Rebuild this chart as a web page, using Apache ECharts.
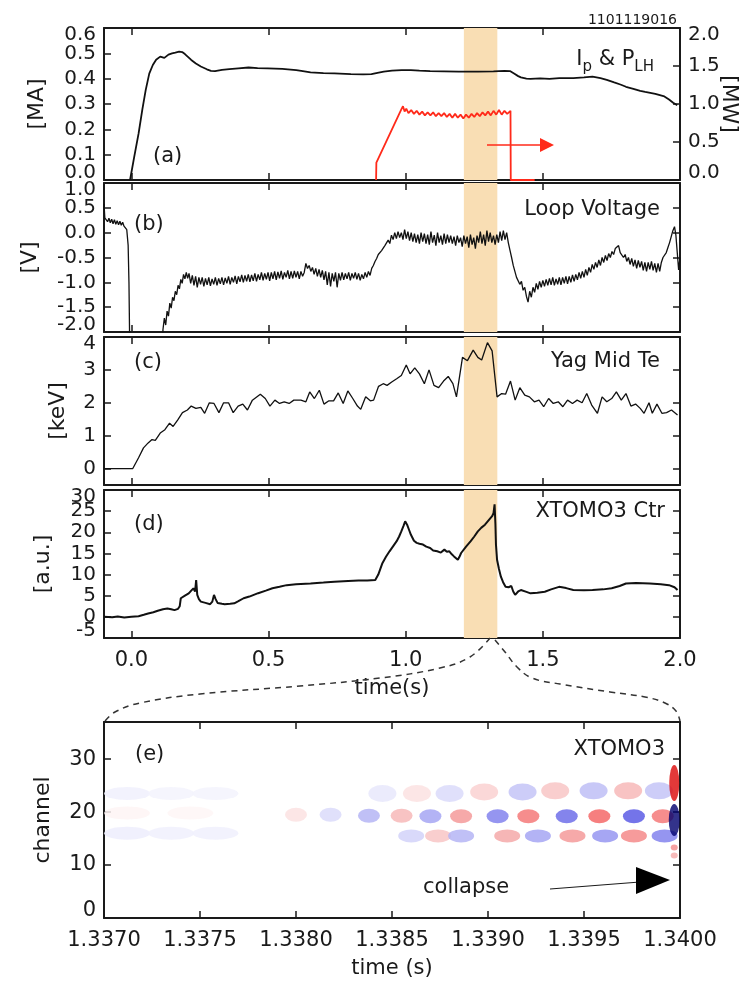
<!DOCTYPE html>
<html>
<head>
<meta charset="utf-8">
<script src="https://cdn.jsdelivr.net/npm/echarts@6/dist/echarts.min.js"></script>
<style>
html, body { margin: 0; padding: 0; background: #fff; }
#chart { width: 749px; height: 984px; }
</style>
</head>
<body>
<div id="chart"></div>
<script>
// (a) plasma current [MA] and LH power [MW]
var ipTrace = [[-0.005,0.0],[0.01,0.09],[0.026,0.183],[0.04,0.28],[0.052,0.355],[0.065,0.42],[0.078,0.454],[0.09,0.475],[0.105,0.487],[0.12,0.482],[0.135,0.495],[0.148,0.5],[0.16,0.503],[0.174,0.507],[0.185,0.505],[0.195,0.497],[0.205,0.487],[0.218,0.474],[0.235,0.46],[0.253,0.448],[0.275,0.437],[0.29,0.431],[0.305,0.43],[0.33,0.435],[0.357,0.438],[0.39,0.441],[0.427,0.444],[0.46,0.442],[0.497,0.441],[0.55,0.439],[0.601,0.434],[0.625,0.43],[0.653,0.425],[0.7,0.422],[0.74,0.421],[0.8,0.418],[0.845,0.417],[0.875,0.418],[0.897,0.423],[0.92,0.428],[0.95,0.432],[0.985,0.434],[1.019,0.434],[1.05,0.432],[1.089,0.43],[1.14,0.429],[1.193,0.428],[1.263,0.428],[1.32,0.429],[1.36,0.431],[1.38,0.43],[1.395,0.42],[1.41,0.41],[1.42,0.405],[1.44,0.4],[1.455,0.399],[1.49,0.401],[1.524,0.399],[1.56,0.402],[1.611,0.402],[1.65,0.405],[1.681,0.408],[1.71,0.402],[1.733,0.395],[1.76,0.385],[1.785,0.376],[1.803,0.368],[1.83,0.36],[1.855,0.352],[1.873,0.348],[1.91,0.34],[1.943,0.33],[1.96,0.318],[1.975,0.305],[1.99,0.295]];
var plhTrace = [[0.892,0.0],[0.893,0.23],[0.984,0.93],[0.99,0.97],[0.996,0.9],[1.002,0.94],[1.01,0.88],[1.02,0.92],[1.03,0.87],[1.04,0.91],[1.05,0.86],[1.06,0.9],[1.07,0.85],[1.08,0.89],[1.09,0.85],[1.1,0.89],[1.11,0.84],[1.12,0.88],[1.13,0.84],[1.14,0.88],[1.15,0.83],[1.16,0.87],[1.17,0.82],[1.18,0.87],[1.19,0.82],[1.2,0.86],[1.21,0.81],[1.22,0.86],[1.23,0.82],[1.24,0.87],[1.25,0.83],[1.26,0.88],[1.27,0.84],[1.28,0.89],[1.29,0.85],[1.3,0.9],[1.31,0.85],[1.32,0.91],[1.33,0.86],[1.34,0.92],[1.35,0.86],[1.36,0.91],[1.37,0.87],[1.382,0.91],[1.383,0.0],[1.47,0.0]];

// (b) loop voltage [V]
var loopV = [[-0.1,0.58],[-0.097,0.3],[-0.092,0.33],[-0.087,0.22],[-0.082,0.29],[-0.077,0.2],[-0.072,0.27],[-0.067,0.18],[-0.062,0.26],[-0.057,0.17],[-0.052,0.24],[-0.047,0.16],[-0.042,0.23],[-0.037,0.15],[-0.032,0.21],[-0.027,0.13],[-0.022,0.16],[-0.017,0.06],[-0.012,-0.25],[-0.009,-1.0],[-0.006,-2.4],
[0.112,-2.4],[0.115,-1.95],[0.12,-1.72],[0.125,-1.86],[0.13,-1.58],[0.135,-1.68],[0.14,-1.42],[0.145,-1.52],[0.15,-1.3],[0.155,-1.37],[0.16,-1.18],[0.165,-1.25],[0.17,-1.06],[0.175,-1.13],[0.18,-0.94],[0.185,-1.02],[0.19,-0.84],[0.195,-0.93],[0.2,-0.8],[0.205,-0.92],
[0.21,-0.82],[0.216,-1.02],[0.222,-0.86],[0.228,-1.06],[0.234,-0.88],[0.24,-1.1],[0.246,-0.9],[0.252,-1.04],[0.258,-0.9],[0.264,-1.08],[0.27,-0.92],[0.276,-1.05],[0.282,-0.9],[0.288,-1.07],[0.294,-0.93],[0.3,-1.04],[0.306,-0.9],[0.312,-1.06],[0.318,-0.92],[0.324,-1.03],[0.33,-0.9],[0.336,-1.05],[0.342,-0.91],[0.348,-1.02],[0.354,-0.88],[0.36,-1.04],[0.366,-0.9],[0.372,-1.0],[0.378,-0.87],[0.384,-1.03],[0.39,-0.88],[0.396,-0.99],[0.402,-0.85],[0.408,-1.0],[0.414,-0.86],[0.42,-0.98],[0.426,-0.84],[0.432,-0.99],[0.438,-0.85],[0.444,-0.97],[0.45,-0.82],[0.456,-0.98],[0.462,-0.84],[0.468,-0.95],[0.474,-0.8],[0.48,-0.96],[0.486,-0.82],[0.492,-0.94],[0.498,-0.8],[0.504,-0.97],[0.51,-0.8],[0.516,-0.93],[0.522,-0.78],[0.528,-0.95],[0.534,-0.79],[0.54,-0.92],[0.546,-0.77],[0.552,-0.94],[0.558,-0.8],[0.564,-0.9],[0.57,-0.76],[0.576,-0.93],[0.582,-0.78],[0.588,-0.92],[0.594,-0.77],[0.6,-0.9],[0.606,-0.78],[0.612,-0.93],[0.618,-0.78],[0.624,-0.88],[0.63,-0.8],[0.636,-0.62],[0.642,-0.72],[0.648,-0.66],[0.654,-0.78],[0.66,-0.7],[0.666,-0.84],[0.672,-0.72],[0.678,-0.88],[0.684,-0.74],[0.69,-0.9],[0.696,-0.76],[0.702,-0.95],[0.708,-0.78],[0.714,-1.05],[0.72,-0.8],[0.726,-1.08],[0.732,-0.82],[0.738,-0.98],[0.744,-0.8],[0.75,-1.1],[0.756,-0.82],[0.762,-0.96],[0.768,-0.8],[0.774,-0.95],[0.78,-0.82],[0.786,-0.93],[0.792,-0.8],[0.798,-0.96],[0.804,-0.82],[0.81,-0.92],[0.816,-0.8],[0.822,-0.94],[0.828,-0.82],[0.834,-0.96],[0.84,-0.84],[0.846,-0.93],[0.852,-0.8],[0.858,-0.9],[0.864,-0.78],[0.87,-0.86],[0.876,-0.72],[0.882,-0.66],[0.888,-0.58],[0.894,-0.52],[0.9,-0.44],[0.906,-0.48],[0.912,-0.36],[0.918,-0.4],[0.924,-0.26],[0.93,-0.3],[0.936,-0.15],[0.942,-0.22],[0.948,-0.05],[0.954,-0.14],[0.96,0.0],[0.966,-0.12],[0.972,0.02],[0.978,-0.1],[0.984,0.0],[0.99,-0.14],[0.996,0.06],[1.002,-0.12],[1.008,0.02],[1.014,-0.16],[1.02,0.0],[1.026,-0.18],[1.032,-0.02],[1.038,-0.2],[1.044,-0.04],[1.05,-0.22],[1.056,0.0],[1.062,-0.18],[1.068,-0.02],[1.074,-0.22],[1.08,-0.04],[1.086,-0.24],[1.092,0.02],[1.098,-0.2],[1.104,-0.05],[1.11,-0.26],[1.116,0.0],[1.122,-0.2],[1.128,-0.06],[1.134,-0.24],[1.14,-0.02],[1.146,-0.22],[1.152,-0.04],[1.158,-0.2],[1.164,-0.06],[1.17,-0.22],[1.176,-0.08],[1.182,-0.26],[1.188,-0.06],[1.194,-0.2],[1.2,-0.1],[1.206,-0.28],[1.212,-0.06],[1.218,-0.22],[1.224,-0.08],[1.23,-0.3],[1.236,-0.04],[1.242,-0.24],[1.248,-0.1],[1.254,-0.32],[1.26,-0.06],[1.266,-0.2],[1.272,0.02],[1.278,-0.22],[1.284,-0.04],[1.29,-0.26],[1.296,0.04],[1.302,-0.18],[1.308,0.0],[1.314,-0.2],[1.32,-0.06],[1.326,-0.24],[1.332,-0.04],[1.338,-0.2],[1.344,0.02],[1.35,-0.16],[1.356,0.04],[1.362,-0.14],[1.368,0.0],[1.374,-0.2],[1.38,-0.35],[1.386,-0.5],[1.392,-0.66],[1.398,-0.78],[1.404,-0.9],[1.41,-0.86],[1.416,-1.04],[1.422,-0.98],[1.428,-1.16],[1.434,-1.1],[1.44,-1.28],[1.446,-1.4],[1.452,-1.18],[1.458,-1.3],[1.464,-1.1],[1.47,-1.2],[1.476,-1.02],[1.482,-1.14],[1.488,-0.98],[1.494,-1.1],[1.5,-0.96],[1.506,-1.08],[1.512,-0.94],[1.518,-1.06],[1.524,-0.92],[1.53,-1.05],[1.536,-0.9],[1.542,-1.06],[1.548,-0.93],[1.554,-1.04],[1.56,-0.9],[1.566,-1.05],[1.572,-0.9],[1.578,-1.02],[1.584,-0.88],[1.59,-1.03],[1.596,-0.88],[1.602,-1.0],[1.608,-0.85],[1.614,-0.98],[1.62,-0.84],[1.626,-0.95],[1.632,-0.8],[1.638,-0.92],[1.644,-0.78],[1.65,-0.9],[1.656,-0.74],[1.662,-0.86],[1.668,-0.7],[1.674,-0.8],[1.68,-0.64],[1.686,-0.74],[1.692,-0.6],[1.698,-0.7],[1.704,-0.55],[1.71,-0.66],[1.716,-0.5],[1.722,-0.6],[1.728,-0.46],[1.734,-0.56],[1.74,-0.42],[1.746,-0.5],[1.752,-0.38],[1.758,-0.44],[1.764,-0.32],[1.77,-0.36],[1.776,-0.26],[1.782,-0.4],[1.788,-0.36],[1.794,-0.5],[1.8,-0.44],[1.806,-0.58],[1.812,-0.5],[1.818,-0.64],[1.824,-0.52],[1.83,-0.68],[1.836,-0.55],[1.842,-0.72],[1.848,-0.56],[1.854,-0.7],[1.86,-0.58],[1.866,-0.76],[1.872,-0.6],[1.878,-0.78],[1.884,-0.6],[1.89,-0.74],[1.896,-0.58],[1.902,-0.76],[1.908,-0.62],[1.914,-0.8],[1.92,-0.62],[1.926,-0.78],[1.932,-0.6],[1.938,-0.5],[1.944,-0.54],[1.95,-0.4],[1.956,-0.3],[1.962,-0.2],[1.968,-0.08],[1.974,0.04],[1.98,0.12],[1.985,-0.05],[1.99,-0.4],[1.995,-0.75],[2.0,-0.5]];

// (c) Thomson scattering core Te [keV]
var teTrace = [[-0.1,0],[0.005,0],[0.026,0.33],[0.044,0.63],[0.061,0.78],[0.075,0.88],[0.087,0.86],[0.105,1.08],[0.122,1.18],[0.139,1.38],[0.152,1.28],[0.169,1.48],[0.186,1.7],[0.204,1.78],[0.218,1.9],[0.235,1.83],[0.253,1.86],[0.267,1.68],[0.284,2.0],[0.301,1.98],[0.319,1.7],[0.336,2.0],[0.354,2.0],[0.371,1.7],[0.389,1.9],[0.406,1.96],[0.423,1.78],[0.441,2.08],[0.47,2.26],[0.488,2.13],[0.505,1.9],[0.523,2.08],[0.54,1.98],[0.557,2.03],[0.575,1.98],[0.592,2.08],[0.618,2.08],[0.636,2.03],[0.65,2.33],[0.667,2.13],[0.685,2.38],[0.702,1.96],[0.72,2.06],[0.737,2.06],[0.754,2.3],[0.772,1.98],[0.789,2.36],[0.807,2.13],[0.824,1.9],[0.836,1.8],[0.854,2.18],[0.871,2.06],[0.883,2.08],[0.901,2.5],[0.918,2.58],[0.932,2.53],[0.949,2.63],[0.967,2.73],[0.984,2.83],[1.002,3.15],[1.016,2.88],[1.033,3.06],[1.05,2.88],[1.068,2.58],[1.085,3.0],[1.103,2.53],[1.12,2.46],[1.138,2.66],[1.155,2.8],[1.172,2.58],[1.185,2.18],[1.207,3.38],[1.225,3.28],[1.246,3.6],[1.263,3.38],[1.277,3.3],[1.298,3.83],[1.315,3.58],[1.333,2.18],[1.35,2.28],[1.364,2.26],[1.382,2.66],[1.399,2.08],[1.416,2.46],[1.434,2.23],[1.451,2.18],[1.469,2.03],[1.486,2.08],[1.503,1.88],[1.521,2.13],[1.538,1.98],[1.556,2.03],[1.573,1.88],[1.59,2.08],[1.608,1.98],[1.625,2.08],[1.643,2.0],[1.66,2.28],[1.678,1.93],[1.699,1.68],[1.716,2.18],[1.733,2.03],[1.751,2.13],[1.768,2.33],[1.786,2.08],[1.803,2.28],[1.821,1.9],[1.838,1.96],[1.855,1.83],[1.869,1.68],[1.887,2.0],[1.899,1.68],[1.916,1.96],[1.934,1.68],[1.951,1.7],[1.969,1.78],[1.991,1.63]];

// (d) XTOMO3 central chord [a.u.]
var xtomoTrace = [[-0.1,0.0],[-0.07,-0.1],[-0.05,0.1],[-0.026,-0.16],[0.0,0.0],[0.026,0.16],[0.045,0.5],[0.061,0.8],[0.08,1.1],[0.096,1.43],[0.115,1.8],[0.131,1.98],[0.145,1.8],[0.157,1.59],[0.17,1.9],[0.176,2.5],[0.18,4.4],[0.195,5.0],[0.209,5.56],[0.218,6.2],[0.226,6.75],[0.232,6.0],[0.236,8.7],[0.24,5.2],[0.246,4.2],[0.253,3.6],[0.27,3.3],[0.287,3.0],[0.295,3.6],[0.301,5.2],[0.307,4.2],[0.314,3.3],[0.33,3.1],[0.34,3.0],[0.36,3.1],[0.375,3.2],[0.39,3.7],[0.409,4.4],[0.43,4.8],[0.462,5.6],[0.49,6.2],[0.514,6.75],[0.54,7.1],[0.566,7.5],[0.6,7.7],[0.653,7.9],[0.7,8.1],[0.74,8.3],[0.79,8.5],[0.828,8.6],[0.86,8.6],[0.889,8.7],[0.9,10.0],[0.915,12.7],[0.928,14.2],[0.941,15.5],[0.955,16.8],[0.967,17.9],[0.976,19.0],[0.984,20.2],[0.992,21.5],[0.998,22.6],[1.005,21.8],[1.012,20.6],[1.019,19.4],[1.03,18.0],[1.04,17.5],[1.05,17.3],[1.063,17.1],[1.075,16.6],[1.089,16.3],[1.1,15.7],[1.115,15.5],[1.128,15.2],[1.141,15.9],[1.15,15.4],[1.159,15.5],[1.168,14.8],[1.176,14.3],[1.19,13.5],[1.196,14.2],[1.202,15.1],[1.22,16.6],[1.237,17.9],[1.25,19.0],[1.263,20.2],[1.276,21.1],[1.289,21.8],[1.302,22.8],[1.315,23.8],[1.32,24.5],[1.324,26.6],[1.327,22.0],[1.329,17.1],[1.333,13.5],[1.34,11.3],[1.347,9.5],[1.355,8.2],[1.364,7.1],[1.375,7.0],[1.385,7.3],[1.392,6.0],[1.399,5.2],[1.41,6.0],[1.42,6.35],[1.44,5.9],[1.455,5.56],[1.48,5.7],[1.507,5.95],[1.53,6.5],[1.559,7.1],[1.585,6.8],[1.611,6.35],[1.65,6.3],[1.681,6.35],[1.72,6.5],[1.751,6.75],[1.78,7.3],[1.803,7.9],[1.84,8.0],[1.89,7.9],[1.93,7.7],[1.96,7.5],[1.98,7.0],[1.991,6.35]];

// window zoomed in (e)
var zoomWindow = [1.212, 1.334];

// (e) XTOMO3 fluctuation blobs: [time, channel, amplitude]
var modeBlobs = [[1.33712,16,-0.06],[1.33735,16,-0.05],[1.33758,16,-0.05],[1.33712,23.5,-0.05],[1.33735,23.5,-0.04],[1.33758,23.5,-0.04],[1.33712,19.8,0.04],[1.33745,19.8,0.03],
[1.33800,19.5,0.1],[1.33818,19.5,-0.12],[1.33838,19.3,-0.25],[1.33855,19.3,0.25],[1.3387,19.2,-0.3],[1.33886,19.2,0.35],[1.33905,19.2,-0.4],[1.33921,19.2,0.45],[1.33941,19.2,-0.45],[1.33958,19.2,0.5],[1.33976,19.2,-0.5],[1.33991,19.2,0.45],
[1.3386,15.5,-0.15],[1.33874,15.5,0.2],[1.33886,15.5,-0.25],[1.3391,15.5,0.3],[1.33926,15.5,-0.3],[1.33944,15.5,0.35],[1.33961,15.5,-0.35],[1.33976,15.5,0.4],[1.33992,15.5,-0.4],
[1.33845,23.5,-0.08],[1.33863,23.5,0.1],[1.3388,23.5,-0.12],[1.33898,23.8,0.16],[1.33918,23.8,-0.2],[1.33935,24,0.2],[1.33955,24,-0.22],[1.33973,24,0.25],[1.33989,24,-0.2]];
var collapseBlobs = [[1.33997,25.5,0.95],[1.33997,18.5,-1.0],[1.33997,13.3,0.4],[1.33997,11.8,0.3]];

var FONT = 'DejaVu Sans';
var INK = '#1a1a1a';
var frameLine = { show: true, onZero: false, lineStyle: { color: INK, width: 2 } };
var inTick = { show: true, inside: true, length: 7, lineStyle: { color: INK, width: 1.5 } };

var grids = [
    { left: 104, top: 28, width: 576, height: 152, outerBoundsMode: 'none' },
    { left: 104, top: 183, width: 576, height: 149, outerBoundsMode: 'none' },
    { left: 104, top: 337, width: 576, height: 148, outerBoundsMode: 'none' },
    { left: 104, top: 490, width: 576, height: 148, outerBoundsMode: 'none' },
    { left: 104, top: 722, width: 576, height: 196, outerBoundsMode: 'none' }
];

function timeAxis(g, pos, labels) {
    var ax = {
        type: 'value', gridIndex: g, position: pos, min: -0.1, max: 2.0, splitNumber: 4,
        axisLine: frameLine, axisTick: inTick, splitLine: { show: false },
        axisLabel: { show: labels, showMinLabel: false, margin: 12, fontSize: 21, fontFamily: FONT, color: INK,
            formatter: function (v) { return v.toFixed(1); } }
    };
    if (labels) {
        ax.name = 'time(s)';
        ax.nameLocation = 'middle';
        ax.nameGap = 40;
        ax.nameTextStyle = { fontSize: 21, fontFamily: FONT, color: INK };
    }
    return ax;
}

// frame axis: inner tick labels only, the two edge values go on edgeAxis
function valAxis(g, pos, opt) {
    var ax = {
        type: 'value', gridIndex: g, position: pos, min: opt.min, max: opt.max,
        axisLine: frameLine, axisTick: inTick, splitLine: { show: false },
        axisLabel: { show: !!opt.labels, margin: 8, fontSize: opt.fontSize || 20,
            fontFamily: FONT, color: INK, showMinLabel: false, showMaxLabel: false,
            formatter: function (v) { return v.toFixed(opt.digits); } }
    };
    if (opt.interval) ax.interval = opt.interval;
    if (opt.splitNumber) ax.splitNumber = opt.splitNumber;
    if (opt.name) {
        ax.name = opt.name;
        ax.nameLocation = 'middle';
        ax.nameGap = opt.gap;
        ax.nameRotate = opt.rotate;
        ax.nameMoveOverlap = false;
        ax.nameTextStyle = { fontSize: 22, fontFamily: FONT, color: INK };
    }
    return ax;
}

// label-only axis: the end values, nudged just inside the frame as in the original
function edgeAxis(g, pos, opt) {
    return {
        type: 'value', gridIndex: g, position: pos, min: opt.min, max: opt.max,
        interval: opt.interval, splitNumber: opt.splitNumber,
        axisLine: { show: false }, axisTick: { show: false }, splitLine: { show: false },
        axisLabel: { margin: 8, fontSize: opt.fontSize || 20, lineHeight: 14, fontFamily: FONT, color: INK,
            showMinLabel: true, showMaxLabel: true,
            verticalAlignMaxLabel: 'top', verticalAlignMinLabel: 'bottom',
            formatter: function (v) {
                if ((opt.hi && v === opt.max) || (opt.lo && v === opt.min)) return v.toFixed(opt.digits);
                return '';
            } }
    };
}

var xAxes = [
    timeAxis(0, 'bottom', false), timeAxis(0, 'top', false),
    timeAxis(1, 'bottom', false), timeAxis(1, 'top', false),
    timeAxis(2, 'bottom', false), timeAxis(2, 'top', false),
    timeAxis(3, 'bottom', true), timeAxis(3, 'top', false),
    {
        type: 'value', gridIndex: 4, position: 'bottom', min: 1.337, max: 1.340, interval: 0.0005,
        axisLine: frameLine, axisTick: inTick, splitLine: { show: false },
        axisLabel: { margin: 12, fontSize: 21, fontFamily: FONT, color: INK, formatter: function (v) { return v.toFixed(4); } },
        name: 'time (s)', nameLocation: 'middle', nameGap: 40,
        nameTextStyle: { fontSize: 21, fontFamily: FONT, color: INK }
    },
    {
        type: 'value', gridIndex: 4, position: 'top', min: 1.337, max: 1.340, interval: 0.0005,
        axisLine: frameLine, axisTick: inTick, splitLine: { show: false }, axisLabel: { show: false }
    }
];

var axA = { min: 0, max: 0.6, interval: 0.1, labels: true, digits: 1, name: '[MA]', gap: 56, lo: true, hi: true };
var axAr = { min: 0, max: 2.0, interval: 0.5, labels: true, digits: 1, name: '[MW]', gap: 38, rotate: -90, lo: true, hi: true };
var axB = { min: -2, max: 1, interval: 0.5, labels: true, digits: 1, name: '[V]', gap: 63, lo: true, hi: true };
var axC = { min: -0.5, max: 4, splitNumber: 5, labels: true, digits: 0, name: '[keV]', gap: 35, lo: false, hi: true };
var axD = { min: -5, max: 30, interval: 5, labels: true, digits: 0, name: '[a.u.]', gap: 50, lo: true, hi: true };
var axE = { min: 0, max: 37, interval: 10, labels: true, digits: 0, fontSize: 21, name: 'channel', gap: 50, lo: true, hi: false };

var yAxes = [
    valAxis(0, 'left', axA), valAxis(0, 'right', axAr),
    valAxis(1, 'left', axB), valAxis(1, 'right', { min: -2, max: 1, interval: 0.5 }),
    valAxis(2, 'left', axC), valAxis(2, 'right', { min: -0.5, max: 4, splitNumber: 5 }),
    valAxis(3, 'left', axD), valAxis(3, 'right', { min: -5, max: 30, interval: 5 }),
    valAxis(4, 'left', axE), valAxis(4, 'right', { min: 0, max: 37, interval: 10 }),
    edgeAxis(0, 'left', axA), edgeAxis(0, 'right', axAr),
    edgeAxis(1, 'left', axB), edgeAxis(2, 'left', axC),
    edgeAxis(3, 'left', axD), edgeAxis(4, 'left', axE)
];

function shadeBand(xi, yi) {
    return {
        type: 'line', data: [], xAxisIndex: xi, yAxisIndex: yi, z: 1, silent: true, animation: false,
        markArea: {
            silent: true,
            itemStyle: { color: '#f9deb4' },
            data: [[{ xAxis: zoomWindow[0] }, { xAxis: zoomWindow[1] }]]
        }
    };
}

function trace(data, xi, yi, color, width) {
    return {
        type: 'line', data: data, xAxisIndex: xi, yAxisIndex: yi, z: 3,
        showSymbol: false, symbol: 'none', clip: true, animation: false,
        lineStyle: { color: color, width: width }
    };
}

function textEl(txt, x, y, align, size) {
    return {
        type: 'text', x: x, y: y, z: 100,
        style: { text: txt, fill: INK, fontSize: size || 21, fontFamily: FONT,
            textAlign: align, textVerticalAlign: 'middle' }
    };
}

var graphics = [
    textEl('1101119016', 677, 20, 'right', 14),
    textEl('(a)', 153, 157, 'left'),
    textEl('(b)', 134, 225, 'left'),
    textEl('(c)', 134, 363, 'left'),
    textEl('(d)', 134, 525, 'left'),
    textEl('(e)', 135, 755, 'left'),
    textEl('Loop Voltage', 660, 210, 'right'),
    textEl('Yag Mid Te', 660, 362, 'right'),
    textEl('XTOMO3 Ctr', 665, 512, 'right'),
    textEl('XTOMO3', 665, 750, 'right'),
    textEl('collapse', 423, 888, 'left'),
    {
        type: 'text', x: 654, y: 60, z: 100,
        style: {
            text: '{n|I}{s|p}{n| & P}{s|LH}', textAlign: 'right', textVerticalAlign: 'middle',
            rich: {
                n: { fontSize: 21, fontFamily: FONT, fill: INK, lineHeight: 30 },
                s: { fontSize: 15, fontFamily: FONT, fill: INK, lineHeight: 14, verticalAlign: 'bottom' }
            }
        }
    },
    // red arrow pointing to the MW axis
    { type: 'line', z: 100, shape: { x1: 487, y1: 145, x2: 542, y2: 145 }, style: { stroke: '#ff2a1a', lineWidth: 1.5 } },
    { type: 'polygon', z: 100, shape: { points: [[540, 138], [554, 145], [540, 152]] }, style: { fill: '#ff2a1a' } },
    // collapse arrow
    { type: 'line', z: 100, shape: { x1: 550, y1: 889, x2: 640, y2: 882 }, style: { stroke: INK, lineWidth: 1 } },
    { type: 'polygon', z: 100, shape: { points: [[636, 867], [670, 880], [636, 894]] }, style: { fill: '#000' } },
    // dashed zoom connectors
    { type: 'polyline', z: 100, shape: { smooth: 0.4, points: [[490, 638], [470, 657], [440, 668], [380, 678], [300, 686], [200, 694], [140, 703], [115, 712], [105, 721]] },
        style: { stroke: '#333', lineWidth: 1.5, lineDash: [6, 5], fill: null } },
    { type: 'polyline', z: 100, shape: { smooth: 0.4, points: [[495, 640], [505, 652], [517, 667], [532, 678], [560, 684], [610, 692], [645, 697], [665, 703], [676, 711], [680, 721]] },
        style: { stroke: '#333', lineWidth: 1.5, lineDash: [6, 5], fill: null } }
];

var chart = echarts.init(document.getElementById('chart'));
chart.setOption({
    animation: false,
    backgroundColor: '#fff',
    grid: grids,
    xAxis: xAxes,
    yAxis: yAxes,
    visualMap: {
        type: 'continuous', show: false, seriesIndex: [9, 10], dimension: 2, min: -1, max: 1,
        inRange: { color: ['#00006e', '#1c1cd8', '#9c9cf2', '#ffffff', '#f4a0a0', '#f43030', '#d80000'] }
    },
    series: [
        shadeBand(0, 0),
        shadeBand(2, 2),
        shadeBand(4, 4),
        shadeBand(6, 6),
        trace(ipTrace, 0, 0, '#111', 1.8),
        trace(plhTrace, 0, 1, '#ff2a1a', 1.8),
        trace(loopV, 2, 2, '#111', 1.3),
        trace(teTrace, 4, 4, '#111', 1.3),
        trace(xtomoTrace, 6, 6, '#111', 2),
        {
            type: 'scatter', data: modeBlobs, xAxisIndex: 8, yAxisIndex: 8, symbol: 'circle',
            symbolSize: function (v) {
                if (v[0] < 1.3377) return [46, 13];
                if (v[1] > 22) return [28, 17];
                if (v[1] < 17) return [26, 13];
                return [22, 14];
            },
            itemStyle: { opacity: 0.85 }, animation: false, silent: true
        },
        {
            type: 'scatter', data: collapseBlobs, xAxisIndex: 8, yAxisIndex: 8, symbol: 'circle',
            symbolSize: function (v) {
                if (v[2] > 0.6) return [10, 36];
                if (v[2] < -0.6) return [11, 32];
                return [7, 6];
            },
            animation: false, silent: true
        }
    ],
    graphic: graphics
});
</script>
</body>
</html>
